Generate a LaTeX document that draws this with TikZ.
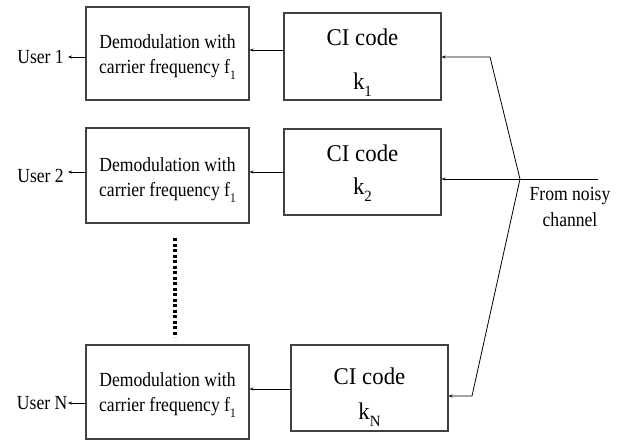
\documentclass[tikz,border=0pt]{standalone}
\usepackage{fontspec}
\usepackage{graphicx}
\setmainfont{Liberation Serif}[FakeStretch=0.88]
\newfontfamily\cifont{Liberation Serif}[FakeStretch=0.95]
\usetikzlibrary{arrows.meta}
% lowered, reduced index digit/letter
\newcommand\lowsub[1]{\raisebox{-0.3em}{\scalebox{0.65}{#1}}}

\begin{document}
\begin{tikzpicture}[x=1pt,y=-1pt,
  blockbox/.style={draw=black!75, line width=1.1pt, minimum width=163pt, inner sep=0pt},
  cibox/.style={draw=black!75, line width=1.1pt, minimum width=157pt, minimum height=86pt, inner sep=0pt},
  demodtext/.style={align=center, inner sep=0pt, font=\fontsize{20}{25}\selectfont},
  citext/.style={align=center, inner sep=0pt, font=\cifont\fontsize{24}{33}\selectfont},
  usertext/.style={anchor=east, inner ysep=0pt, font=\fontsize{20}{25}\selectfont},
  link/.style={line width=0.8pt, -{Stealth[length=4pt,width=3pt]}},
  wire/.style={line width=0.8pt},
  dotline/.style={line width=3.5pt, dash pattern=on 3.2pt off 2.3pt}]
\useasboundingbox (0,0) rectangle (624,441);

% demodulator blocks
\node[blockbox, minimum height=93pt] (D1) at (167.5,53.5) {};
\node[blockbox, minimum height=95pt] (D2) at (167.5,175.5) {};
\node[blockbox, minimum height=94pt] (DN) at (167.5,392) {};
\node[demodtext, yshift=-4pt] (D1t) at (D1.center) {Demodulation with\\carrier frequency f\lowsub{1}};
\node[demodtext, yshift=-5pt] (D2t) at (D2.center) {Demodulation with\\carrier frequency f\lowsub{1}};
\node[demodtext, yshift=-3pt] (DNt) at (DN.center) {Demodulation with\\carrier frequency f\lowsub{1}};

% CI code blocks
\node[cibox, minimum height=87pt] (C1) at (362.5,56.5) {};
\node[cibox] (C2) at (362.5,172) {};
\node[cibox] (CN) at (369.5,388) {};
\node[citext, yshift=-6pt] (C1t) at (C1.center) {CI code\\[11pt]k\lowsub{1}};
\node[citext, yshift=-1.5pt] (C2t) at (C2.center) {CI code\\k\lowsub{2}};
\node[citext, yshift=-9pt] (CNt) at (CN.center) {CI code\\[2pt]k\lowsub{N}};

% user outputs
\node[usertext, inner xsep=4pt] (U1) at (68,57) {User 1};
\node[usertext, inner xsep=4pt, yshift=-4pt] (U2) at (68,172) {User 2};
\node[usertext, inner xsep=0.5pt] (UN) at (68,403) {User N};

% row levels and bend points
\coordinate (y1) at (0,50);
\coordinate (y2) at (0,172);
\coordinate (yN) at (0,389);
\coordinate (u1) at (0,57);
\coordinate (uN) at (0,403);
\coordinate (J) at (520,179);
\coordinate (src) at (598,179);
\coordinate (b1) at (490,57);
\coordinate (bN) at (472,396);

% CI code -> demodulator
\draw[link] (C1.west |- y1) -- (D1.east |- y1);
\draw[link] (C2.west |- y2) -- (D2.east |- y2);
\draw[link] (CN.west |- yN) -- (DN.east |- yN);

% demodulator -> user
\draw[link] (D1.west |- u1) -- (U1.east |- u1);
\draw[link] (D2.west |- y2) -- (U2.east |- y2);
\draw[link] (DN.west |- uN) -- (UN.east |- uN);

% channel input fanned out to the CI code blocks
\draw[wire] (src) -- (J);
\draw[link] (J) -- (C2.east |- J);
\draw[link] (J) -- (b1) -- (C1.east |- b1);
\draw[link] (J) -- (bN) -- (CN.east |- bN);
\node[demodtext, font=\fontsize{20}{26}\selectfont] (ch) at (570,207) {From noisy\\channel};

% ellipsis between user 2 and user N
\coordinate (dtop) at (175,238);
\coordinate (dbot) at (175,337);
\draw[dotline] (dtop) -- (dbot);
\end{tikzpicture}
\end{document}
